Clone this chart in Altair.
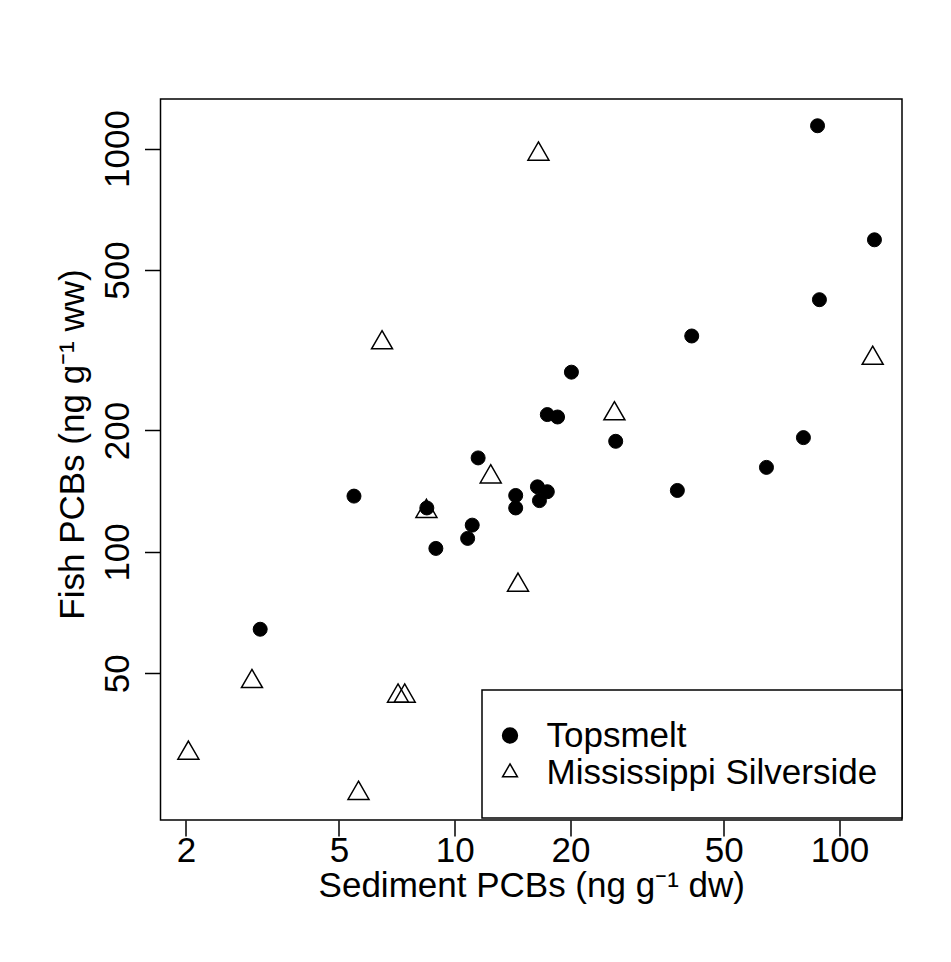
import altair as alt
import pandas as pd

FONT = "Liberation Sans"
FS = 35

species_names = ["Topsmelt", "Mississippi Silverside"]

topsmelt_sediment = [87.7, 123.3, 88.7, 41.3, 20.1, 17.4, 18.5, 26.2, 80.6, 64.6, 11.5,
                     5.47, 14.4, 14.4, 16.4, 17.4, 16.6, 8.46, 11.1, 10.8, 8.93, 37.9, 3.12]
topsmelt_fish = [1139, 594, 422, 343, 279, 219, 216, 188, 192, 162, 171,
                 137.5, 138, 128.5, 145, 141, 134, 128.5, 116.5, 108, 102, 142, 64.3]

silverside_sediment = [16.5, 6.47, 122.0, 26.0, 12.4, 8.44, 14.6, 2.97, 7.12, 7.41, 2.03, 5.62]
silverside_fish = [969, 330, 302, 220, 153.5, 126, 82.7, 47.7, 43.9, 43.9, 31.7, 25.2]

x_ticks = [2, 5, 10, 20, 50, 100]
y_ticks = [50, 100, 200, 500, 1000]
x_domain = [1.718, 145.4]
y_domain = [21.64, 1327]

x_title = "Sediment PCBs (ng g\u207b\u00b9 dw)"
y_title = "Fish PCBs (ng g\u207b\u00b9 ww)"

df = pd.DataFrame({
    "sediment": topsmelt_sediment + silverside_sediment,
    "fish": topsmelt_fish + silverside_fish,
    "species": [species_names[0]] * len(topsmelt_sediment)
    + [species_names[1]] * len(silverside_sediment),
})

TRI = "M0,-1.1547L1,0.5774L-1,0.5774Z"

legend = alt.Legend(
    title=None, orient="none", legendX=332, legendY=619, zindex=1,
    labelFontSize=FS, labelFont=FONT, labelColor="black", labelLimit=600,
    labelOffset=19, symbolSize=220, symbolStrokeWidth=1.5,
    symbolStrokeColor="black", rowPadding=1, padding=0,
)

x_axis = alt.Axis(
    values=x_ticks, format="d", tickSize=16, tickWidth=1.5, tickColor="black",
    domain=False, grid=False, labelFontSize=FS, labelFont=FONT, labelColor="black",
    labelPadding=-3, labelFlush=False, labelOverlap=False,
    title=x_title, titleFontSize=FS, titleFont=FONT, titleFontWeight="normal",
    titleColor="black", titleBaseline="alphabetic", titleY=76,
)
y_axis = alt.Axis(
    values=y_ticks, format="d", tickSize=16, tickWidth=1.5, tickColor="black",
    domain=False, grid=False, labelFontSize=FS, labelFont=FONT, labelColor="black",
    labelPadding=16, labelFlush=False, labelOverlap=False, labelAngle=270,
    labelAlign="center", labelBaseline="alphabetic",
    title=y_title, titleFontSize=FS, titleFont=FONT, titleFontWeight="normal",
    titleColor="black", titleAngle=270, titleAlign="center",
    titleBaseline="alphabetic", titleX=-77, titleY=345,
)

x_enc = alt.X("sediment:Q", scale=alt.Scale(type="log", domain=x_domain, nice=False, zero=False),
              axis=x_axis)
y_enc = alt.Y("fish:Q", scale=alt.Scale(type="log", domain=y_domain, nice=False, zero=False),
              axis=y_axis)
shape_enc = alt.Shape("species:N", scale=alt.Scale(domain=species_names, range=["circle", TRI]),
                      legend=legend)
fill_enc = alt.Fill("species:N", scale=alt.Scale(domain=species_names, range=["black", "transparent"]),
                    legend=legend)
stroke_enc = alt.Stroke("species:N", scale=alt.Scale(domain=species_names, range=["black", "black"]),
                        legend=legend)

frame = alt.Chart(pd.DataFrame({"k": [0]})).mark_rect(
    fill="white", stroke="black", strokeWidth=1.5
).encode(
    x=alt.value(321.5), x2=alt.value(741.5), y=alt.value(591), y2=alt.value(719)
)

base = alt.Chart(df).encode(x=x_enc, y=y_enc, shape=shape_enc, fill=fill_enc, stroke=stroke_enc)

circles = base.transform_filter(alt.datum.species == species_names[0]).mark_point(
    strokeWidth=1, opacity=1, size=196
)
triangles = base.transform_filter(alt.datum.species == species_names[1]).mark_point(
    strokeWidth=1.5, opacity=1, size=441
)

chart = alt.layer(frame, circles, triangles).properties(
    width=741.5, height=721,
    autosize=alt.AutoSizeParams(type="none"),
    padding={"left": 152.5, "top": 91, "right": 41, "bottom": 134},
    background="white",
).configure_view(stroke="black", strokeWidth=1.5)

chart.save("out.html", embed_options={"renderer": "svg", "actions": False})
